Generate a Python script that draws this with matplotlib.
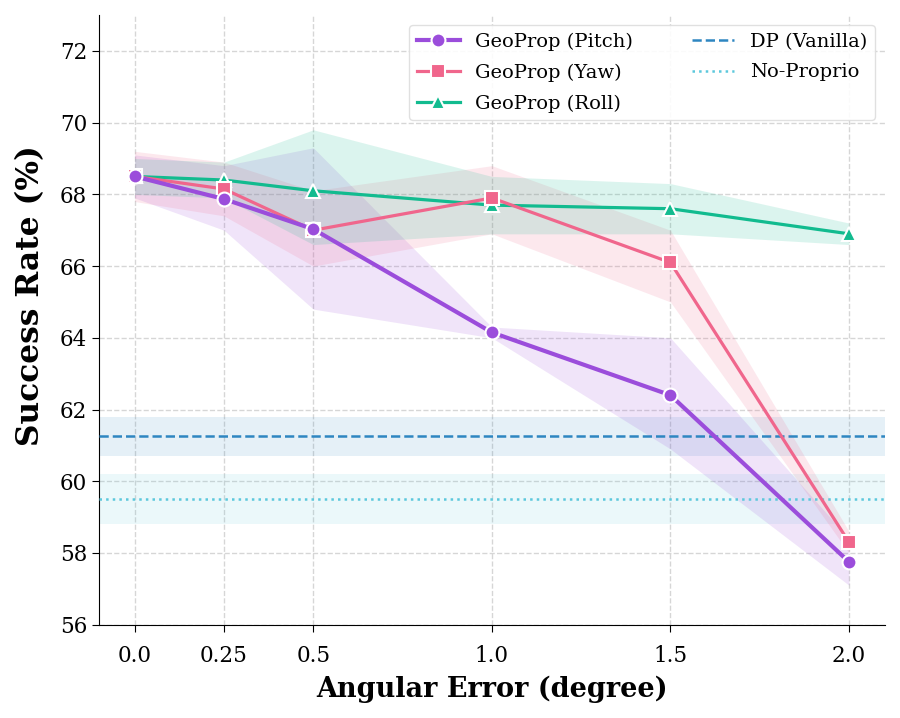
import numpy as np
import matplotlib.pyplot as plt

plt.rcParams['font.family'] = ['DejaVu Serif']

# angular error levels
x_vals = [0.0, 0.25, 0.5, 1.0, 1.5, 2.0]
x_labels = ['0.0', '0.25', '0.5', '1.0', '1.5', '2.0']

# success rates (%)
pitch = [68.5, 67.87, 67.03, 64.15, 62.4, 57.75]
pitch_lo = [67.9, 67.0, 64.8, 64.0, 60.9, 57.1]
pitch_hi = [69.1, 68.8, 69.3, 64.3, 64.0, 58.4]

yaw = [68.5, 68.15, 67.0, 67.9, 66.1, 58.3]
yaw_lo = [67.8, 67.4, 66.0, 66.9, 65.0, 58.0]
yaw_hi = [69.2, 68.9, 68.1, 68.8, 67.0, 58.6]

roll = [68.5, 68.4, 68.1, 67.7, 67.6, 66.9]
roll_lo = [68.0, 67.9, 66.6, 66.9, 66.9, 66.6]
roll_hi = [69.0, 68.9, 69.8, 68.5, 68.3, 67.2]

dp_mean, dp_std = 61.25, 0.55
noprop_mean, noprop_std = 59.5, 0.7

c_pitch = '#9B4DDB'
c_yaw = '#F0668C'
c_roll = '#12BB8F'
c_dp = '#2E86C1'
c_np = '#5CC8DC'

fig = plt.figure(figsize=(9, 7.18), dpi=100)
ax = fig.add_axes([0.11, 0.13, 0.873, 0.849])

ax.axhspan(dp_mean - dp_std, dp_mean + dp_std, color=c_dp, alpha=0.12, lw=0, zorder=1)
ax.axhspan(noprop_mean - noprop_std, noprop_mean + noprop_std, color=c_np, alpha=0.12, lw=0, zorder=1)

ax.fill_between(x_vals, pitch_lo, pitch_hi, color=c_pitch, alpha=0.15, lw=0, zorder=2)
ax.fill_between(x_vals, yaw_lo, yaw_hi, color=c_yaw, alpha=0.15, lw=0, zorder=2)
ax.fill_between(x_vals, roll_lo, roll_hi, color=c_roll, alpha=0.15, lw=0, zorder=2)

ax.axhline(dp_mean, color=c_dp, ls='--', lw=1.8, label='DP (Vanilla)', zorder=3)
ax.axhline(noprop_mean, color=c_np, ls=':', lw=1.8, label='No-Proprio', zorder=3)

ax.plot(x_vals, pitch, color=c_pitch, lw=3, marker='o', ms=10,
        mec='white', mew=1.5, label='GeoProp (Pitch)', zorder=6)
ax.plot(x_vals, yaw, color=c_yaw, lw=2.3, marker='s', ms=9.5,
        mec='white', mew=1.5, label='GeoProp (Yaw)', zorder=5)
ax.plot(x_vals, roll, color=c_roll, lw=2.3, marker='^', ms=10,
        mec='white', mew=1.5, label='GeoProp (Roll)', zorder=4)

ax.set_xlim(-0.1, 2.1)
ax.set_ylim(56, 73)
ax.set_xticks(x_vals)
ax.set_xticklabels(x_labels)
ax.set_yticks(np.arange(56, 73, 2))
ax.tick_params(labelsize=15.5, length=5)
ax.tick_params(axis='x', pad=10)

ax.set_xlabel('Angular Error (degree)', fontsize=19.5, fontweight='bold', labelpad=6)
ax.set_ylabel('Success Rate (%)', fontsize=22.5, fontweight='bold')
ax.yaxis.set_label_coords(-0.068, 0.54)

ax.grid(True, ls='--', color='#cccccc', lw=1, alpha=0.8)
ax.set_axisbelow(True)
ax.spines['top'].set_visible(False)
ax.spines['right'].set_visible(False)

handles, labels = ax.get_legend_handles_labels()
order = [labels.index(n) for n in ['GeoProp (Pitch)', 'GeoProp (Yaw)', 'GeoProp (Roll)', 'DP (Vanilla)', 'No-Proprio']]
ax.legend([handles[i] for i in order], [labels[i] for i in order],
          loc='upper right', ncol=2, fontsize=14, frameon=True,
          edgecolor='#dddddd', framealpha=0.9, handlelength=2.2,
          columnspacing=3.0, borderaxespad=0.5, labelspacing=0.65)

fig.savefig('out.png', dpi=100)
